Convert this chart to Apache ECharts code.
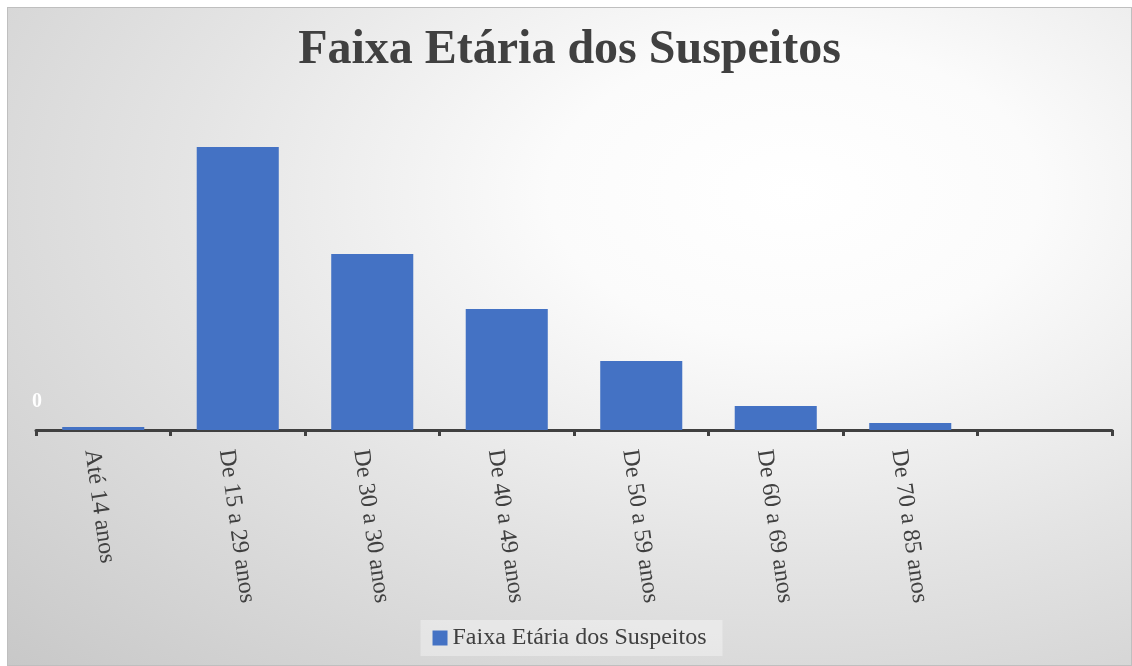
<!DOCTYPE html>
<html>
<head>
<meta charset="utf-8">
<script src="https://cdn.jsdelivr.net/npm/echarts@6/dist/echarts.min.js"></script>
<style>
  html, body { margin: 0; padding: 0; background: #fff; }
  #frame {
    position: absolute; left: 7px; top: 7px;
    width: 1123px; height: 657px;
    border: 1px solid #bfbfbf;
    background: radial-gradient(ellipse at 70% 28%, #ffffff 0%, #fbfbfb 22%, #e4e4e4 55%, #c8c8c8 100%);
  }
  #chart { width: 1123px; height: 657px; }
</style>
</head>
<body>
<div id="frame"><div id="chart"></div></div>
<script>
  // dados
  var titulo = 'Faixa Etária dos Suspeitos';
  var faixas = ['Até 14 anos', 'De 15 a 29 anos', 'De 30 a 30 anos', 'De 40 a 49 anos',
                'De 50 a 59 anos', 'De 60 a 69 anos', 'De 70 a 85 anos', ''];
  var suspeitos = [3, 283, 176, 121, 69, 24, 7, null];

  var myChart = echarts.init(document.getElementById('chart'));

  var option = {
    backgroundColor: 'transparent',
    title: {
      text: titulo,
      left: 'center',
      top: 14,
      textStyle: {
        fontFamily: 'Liberation Serif',
        fontWeight: 'bold',
        fontSize: 48,
        color: '#404040'
      }
    },
    legend: {
      bottom: 9,
      left: 'center',
      icon: 'rect',
      itemWidth: 15,
      itemHeight: 15,
      itemGap: 6,
      padding: [6, 16, 6, 12],
      backgroundColor: 'rgba(255,255,255,0.35)',
      textStyle: { fontFamily: 'Liberation Serif', fontSize: 24, color: '#404040' },
      data: [titulo]
    },
    grid: { left: 28, right: 19, top: 122, bottom: 235 },
    xAxis: {
      type: 'category',
      data: faixas,
      axisLine: { lineStyle: { color: '#404040', width: 3 } },
      axisTick: { show: true, length: 6, lineStyle: { color: '#404040', width: 3 } },
      axisLabel: {
        rotate: -82,
        margin: 18,
        interval: 0,
        verticalAlign: 'top',
        fontFamily: 'Liberation Serif',
        fontSize: 24,
        color: '#404040'
      }
    },
    yAxis: {
      type: 'value',
      min: 0,
      max: 300,
      interval: 300,
      splitLine: { show: false },
      axisLine: { show: false },
      axisTick: { show: false },
      axisLabel: {
        margin: -6,
        verticalAlign: 'bottom',
        padding: [0, 0, 18, 0],
        fontFamily: 'Liberation Serif',
        fontWeight: 'bold',
        fontSize: 20,
        color: '#ffffff',
        formatter: function (v) { return v === 0 ? '0' : ''; }
      }
    },
    series: [{
      name: titulo,
      type: 'bar',
      barWidth: '61%',
      itemStyle: { color: '#4472C4' },
      data: suspeitos
    }]
  };

  myChart.setOption(option);
</script>
</body>
</html>
